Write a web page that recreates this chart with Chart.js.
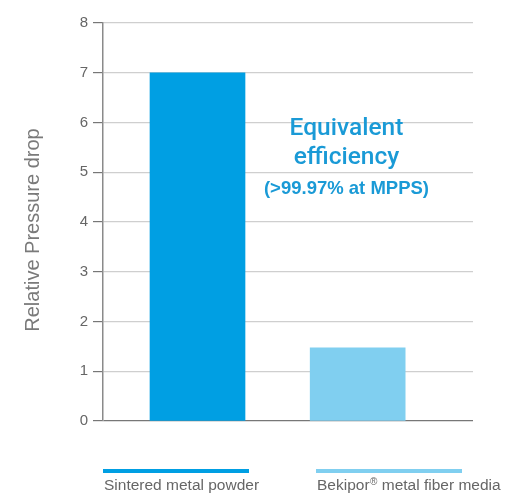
<!DOCTYPE html>
<html>
<head>
<meta charset="utf-8">
<script src="https://cdn.jsdelivr.net/npm/chart.js@4"></script>
<style>
  html, body { margin: 0; padding: 0; background: #fff; }
  #wrap { width: 510px; height: 493px; }
</style>
</head>
<body>
<div id="wrap"><canvas id="chart" width="510" height="493"></canvas></div>
<script>
// data
const seriesLabels = ['Sintered metal powder', 'Bekipor\u00AE metal fiber media'];
const seriesPositions = [1, 2];
const seriesValues = [7, 1.47];
const seriesColors = ['#009fe3', '#80cff0'];
const yTicks = [0, 1, 2, 3, 4, 5, 6, 7, 8];
const yTitle = 'Relative Pressure drop';
const noteLines = ['Equivalent', 'efficiency', '(>99.97% at MPPS)'];

const FONT = '"Liberation Sans", Arial, sans-serif';

// draws text with the ® sign as a small superscript
function drawLabel(ctx, text, x, y) {
    const parts = text.split('\u00AE');
    let cx = x;
    parts.forEach((part, i) => {
        ctx.font = '15.5px ' + FONT;
        ctx.fillText(part, cx, y);
        cx += ctx.measureText(part).width;
        if (i < parts.length - 1) {
            ctx.font = '10px ' + FONT;
            ctx.fillText('\u00AE', cx + 0.5, y - 4);
            cx += ctx.measureText('\u00AE').width + 0.5;
        }
    });
}

// annotation, axis title and bottom legend
const extrasPlugin = {
    id: 'extras',
    afterDraw(chart) {
        const ctx = chart.ctx;
        const x = chart.scales.x;
        const y = chart.scales.y;
        ctx.save();

        // y axis title
        ctx.save();
        ctx.translate(33, 230);
        ctx.rotate(-Math.PI / 2);
        ctx.fillStyle = '#7a7a7a';
        ctx.textAlign = 'center';
        ctx.textBaseline = 'middle';
        ctx.font = '20px ' + FONT;
        ctx.fillText(yTitle, 0, 0);
        ctx.restore();

        // note text in the middle right
        const cx = x.getPixelForValue(1.93);
        ctx.fillStyle = '#1a9ad6';
        ctx.textAlign = 'center';
        ctx.textBaseline = 'middle';
        ctx.font = '500 24.5px Roboto, ' + FONT;
        ctx.fillText(noteLines[0], cx, y.getPixelForValue(5.87));
        ctx.fillText(noteLines[1], cx, y.getPixelForValue(5.28));
        ctx.font = 'bold 18.5px ' + FONT;
        ctx.fillText(noteLines[2], cx, y.getPixelForValue(4.66));

        // legend below the chart
        const starts = [103, 316];
        ctx.textAlign = 'left';
        ctx.textBaseline = 'middle';
        seriesLabels.forEach((label, i) => {
            ctx.fillStyle = seriesColors[i];
            ctx.fillRect(starts[i], 469, 146, 4);
            ctx.fillStyle = '#666';
            drawLabel(ctx, label, starts[i] + 1, 486);
        });
        ctx.restore();
    }
};

new Chart(document.getElementById('chart'), {
    type: 'bar',
    data: {
        datasets: [{
            data: seriesPositions.map((p, i) => ({ x: p, y: seriesValues[i] })),
            backgroundColor: seriesColors,
            barThickness: 95
        }]
    },
    options: {
        responsive: false,
        animation: false,
        layout: { padding: { left: 0, right: 37, top: 23, bottom: 72 } },
        plugins: {
            legend: { display: false },
            tooltip: { enabled: false }
        },
        scales: {
            x: {
                type: 'linear',
                display: false,
                offset: false,
                min: 0.41,
                max: 2.72
            },
            y: {
                min: 0,
                max: 8,
                afterFit(scale) { scale.width = 103; },
                afterBuildTicks(scale) { scale.ticks = yTicks.map(v => ({ value: v })); },
                border: { color: '#8a8a8a', width: 1.5 },
                grid: {
                    color: ctx => ctx.tick && ctx.tick.value === 0 ? '#777' : '#cfcfcf',
                    lineWidth: 1.2,
                    tickLength: 10,
                    tickColor: '#777'
                },
                ticks: {
                    color: '#666',
                    padding: 5,
                    font: { family: FONT, size: 15 }
                }
            }
        }
    },
    plugins: [extrasPlugin]
});
</script>
</body>
</html>
